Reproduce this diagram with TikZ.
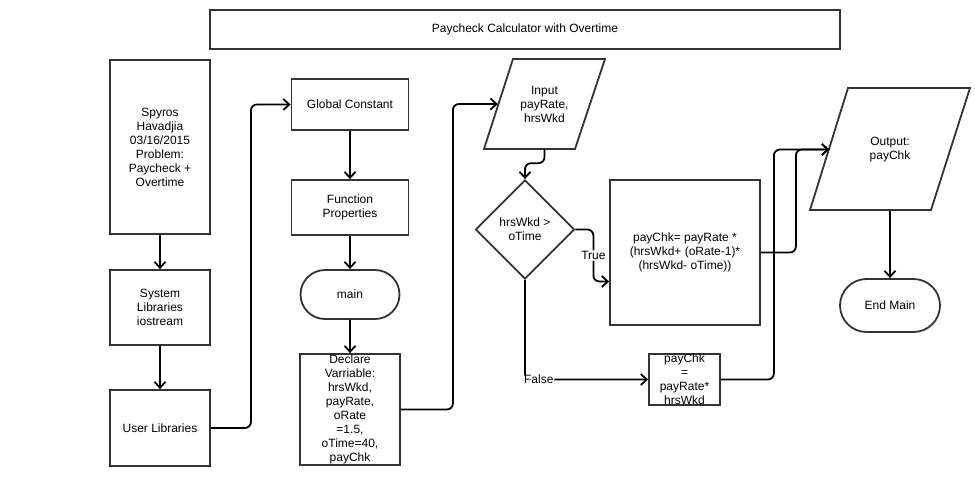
\documentclass[tikz,border=0pt]{standalone}
\usepackage{fontspec}
\setmainfont{Liberation Sans}
\usetikzlibrary{shapes.geometric,shapes.misc,arrows.meta}

\def\inputshape{(484,149) -- (513,59) -- (605,59) -- (575,149) -- cycle}
\def\outputshape{(810,210) -- (848,88) -- (970,88) -- (931,210) -- cycle}

\tikzset{
  box/.style={draw=black!80, line width=1.8pt, align=center, inner sep=1pt},
  io/.style={align=center, inner sep=1pt},
  term/.style={box, rounded rectangle},
  link/.style={line width=1.8pt, -{Straight Barb[length=6pt, width=11pt]}, rounded corners=6pt},
  tag/.style={fill=white, inner sep=1pt}
}

\begin{document}
\begin{tikzpicture}[x=1pt, y=-1pt, font=\fontsize{12}{14}\selectfont]
  \useasboundingbox (0,0) rectangle (975,486);
  % title
  \node[box, minimum width=630, minimum height=39] (title) at (525,29.5) {Paycheck Calculator with Overtime};
  % left column
  \node[box, minimum width=100, minimum height=174] (name) at (160,147) {Spyros\\Havadjia\\03/16/2015\\Problem:\\Paycheck +\\Overtime};
  \node[box, minimum width=100, minimum height=75] (syslib) at (160,307.5) {System\\Libraries\\iostream};
  \node[box, minimum width=100, minimum height=76] (usrlib) at (160,428) {User Libraries};
  % second column
  \node[box, minimum width=117, minimum height=51] (const) at (350,104.5) {Global Constant};
  \node[box, minimum width=117, minimum height=55] (func) at (350,207.5) {Function\\Properties};
  \node[term, minimum width=101, minimum height=49] (main) at (350,294.5) {main};
  \node[box, minimum width=100, minimum height=111, inner sep=0pt] (decl) at (350,409.5) {Declare\\Varriable:\\hrsWkd,\\payRate,\\oRate\\=1.5,\\oTime=40,\\payChk};
  % input and test
  \draw[box] \inputshape;
  \node[io, minimum width=93, minimum height=90] (input) at (544.5,104) {Input\\payRate,\\hrsWkd};
  \node[box, diamond, minimum width=99, minimum height=99] (check) at (525,229.5) {hrsWkd >\\oTime};
  \node[box, minimum width=150, minimum height=145] (calc) at (685,252.5) {payChk= payRate *\\(hrsWkd+ (oRate-1)*\\(hrsWkd- oTime))};
  \node[box, minimum width=71, minimum height=51] (flat) at (684.5,379.5) {};
  \node[align=center] (flattxt) at (flat) {payChk\\=\\payRate*\\hrsWkd};
  % output
  \draw[box] \outputshape;
  \node[io, minimum width=121, minimum height=122] (out) at (890,149.5) {Output:\\payChk};
  \node[term, minimum width=102, minimum height=53] (stop) at (890,305.5) {End Main};

  \draw[link] (name) -- (syslib);
  \draw[link] (syslib) -- (usrlib);
  \draw[link] (usrlib.east) -- ++(40,0) |- (const.west);
  \draw[link] (const) -- (func);
  \draw[link] (func) -- (main);
  \draw[link] (main) -- (decl);
  \draw[link] (decl.east) -- ++(52,0) |- (input.west);
  \draw[link] (input.south) -- ++(0,14) -| (check.north);
  \draw[link] (check.east) -- ++(18,0) |- node[tag, pos=0.25] (yes) {True} ([yshift=-29pt]calc.west);
  \draw[link] (check.south) |- node[tag, pos=0.556] (no) {False} (flat.west);
  \draw[link] (calc.east) -- ++(35,0) |- (out.west);
  \draw[link] (flat.east) -- ++(53,0) |- (out.west);
  \draw[link] (out) -- (stop);
\end{tikzpicture}
\end{document}
